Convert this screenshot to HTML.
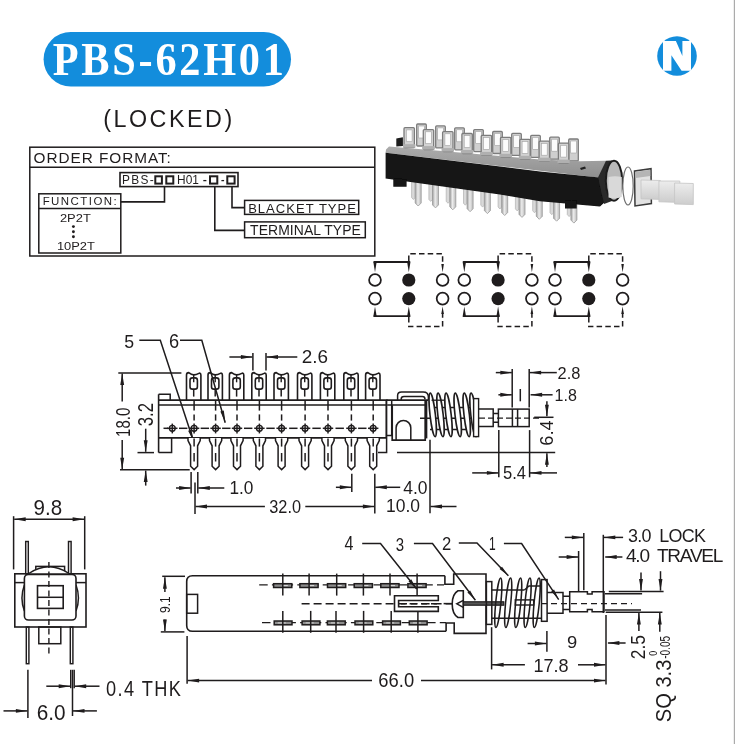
<!DOCTYPE html>
<html><head><meta charset="utf-8"><style>
html,body{margin:0;padding:0;background:#fff;}
body{width:735px;height:744px;overflow:hidden;position:relative;}
svg{position:absolute;left:0;top:0;display:block;will-change:transform;}
</style></head><body>
<svg width="735" height="744" viewBox="0 0 735 744" stroke-linecap="butt">
<rect x="43.6" y="32" width="247.4" height="54.5" rx="27.2" fill="#138ddc"/>
<text x="0" y="0" transform="translate(52.68,74.70) scale(0.92,1)" font-family="Liberation Serif" font-weight="bold" font-size="46.02" fill="#fff" letter-spacing="2.986">PBS-62H01</text>
<circle cx="677" cy="56" r="19.8" fill="#138ddc"/>
<path d="M663,41 L675.9,41 L682.4,56.1 L682.4,41 L691,41 L691,70.8 L681.6,70.8 L671.4,55.3 L671.4,70.8 L663,70.8 Z" fill="#fff"/>
<text x="103.16" y="126.70" font-family="Liberation Sans" font-size="23.30" font-weight="normal" fill="#1f1c1d" letter-spacing="2.523">(LOCKED)</text>
<rect x="733.8" y="0" width="1.2" height="744" fill="#ababab"/>
<rect x="29.80" y="147.20" width="345.00" height="108.80" rx="0" stroke="#1f1c1d" stroke-width="1.5" fill="none"/>
<line x1="29.80" y1="167.20" x2="374.80" y2="167.20" stroke="#1f1c1d" stroke-width="1.5"/>
<text x="33.58" y="162.50" font-family="Liberation Sans" font-size="15.33" font-weight="normal" fill="#1f1c1d" letter-spacing="0.963">ORDER FORMAT:</text>
<rect x="120.00" y="172.60" width="118.00" height="14.00" rx="0" stroke="#1f1c1d" stroke-width="1.6" fill="none"/>
<text x="122.12" y="183.60" font-family="Liberation Sans" font-size="11.89" font-weight="normal" fill="#1f1c1d" letter-spacing="1.315">PBS-</text>
<rect x="155.30" y="176.30" width="6.60" height="7.30" rx="0" stroke="#1f1c1d" stroke-width="2.0" fill="none"/>
<rect x="166.30" y="176.30" width="7.00" height="7.30" rx="0" stroke="#1f1c1d" stroke-width="2.0" fill="none"/>
<rect x="210.00" y="176.30" width="7.30" height="7.30" rx="0" stroke="#1f1c1d" stroke-width="2.0" fill="none"/>
<rect x="227.30" y="176.30" width="7.30" height="7.30" rx="0" stroke="#1f1c1d" stroke-width="2.0" fill="none"/>
<text x="177.12" y="183.60" font-family="Liberation Sans" font-size="11.90" font-weight="normal" fill="#1f1c1d" letter-spacing="0.017">H01</text>
<line x1="203.30" y1="180.60" x2="206.40" y2="180.60" stroke="#1f1c1d" stroke-width="1.3"/>
<line x1="221.40" y1="180.60" x2="224.10" y2="180.60" stroke="#1f1c1d" stroke-width="1.3"/>
<rect x="38.80" y="193.80" width="82.00" height="59.20" rx="0" stroke="#1f1c1d" stroke-width="1.5" fill="none"/>
<line x1="38.80" y1="208.40" x2="120.80" y2="208.40" stroke="#1f1c1d" stroke-width="1.5"/>
<text x="42.66" y="205.20" font-family="Liberation Sans" font-size="11.46" font-weight="normal" fill="#1f1c1d" letter-spacing="1.461">FUNCTION:</text>
<text x="59.95" y="222.40" font-family="Liberation Sans" font-size="11.60" font-weight="normal" fill="#1f1c1d" textLength="30.84" lengthAdjust="spacingAndGlyphs" >2P2T</text>
<circle cx="73.4" cy="226.6" r="1.45" fill="#1f1c1d"/>
<circle cx="73.4" cy="231.8" r="1.45" fill="#1f1c1d"/>
<circle cx="73.4" cy="236.8" r="1.45" fill="#1f1c1d"/>
<text x="56.92" y="250.30" font-family="Liberation Sans" font-size="11.75" font-weight="normal" fill="#1f1c1d" textLength="37.98" lengthAdjust="spacingAndGlyphs" >10P2T</text>
<path d="M164.5,186.6 V201.9 H120.8" stroke="#1f1c1d" stroke-width="1.6" fill="none" />
<path d="M214.8,186.6 V230.4 H244.6" stroke="#1f1c1d" stroke-width="1.6" fill="none" />
<path d="M232.0,186.6 V207.6 H244.6" stroke="#1f1c1d" stroke-width="1.6" fill="none" />
<rect x="244.60" y="200.40" width="114.10" height="14.00" rx="0" stroke="#1f1c1d" stroke-width="1.5" fill="none"/>
<text x="248.13" y="212.70" font-family="Liberation Sans" font-size="13.04" font-weight="normal" fill="#1f1c1d" letter-spacing="1.028">BLACKET TYPE</text>
<rect x="244.60" y="221.90" width="120.70" height="15.80" rx="0" stroke="#1f1c1d" stroke-width="1.5" fill="none"/>
<text x="250.09" y="235.20" font-family="Liberation Sans" font-size="13.95" font-weight="normal" fill="#1f1c1d" letter-spacing="0.067">TERMINAL TYPE</text>
<circle cx="375.00" cy="280.0" r="5.9" fill="none" stroke="#1f1c1d" stroke-width="1.75"/>
<circle cx="375.00" cy="298.6" r="5.9" fill="none" stroke="#1f1c1d" stroke-width="1.75"/>
<circle cx="408.80" cy="280.0" r="6.6" fill="#1f1c1d"/>
<circle cx="408.80" cy="298.6" r="6.6" fill="#1f1c1d"/>
<circle cx="442.60" cy="280.0" r="5.9" fill="none" stroke="#1f1c1d" stroke-width="1.75"/>
<circle cx="442.60" cy="298.6" r="5.9" fill="none" stroke="#1f1c1d" stroke-width="1.75"/>
<line x1="373.80" y1="262.00" x2="410.00" y2="262.00" stroke="#1f1c1d" stroke-width="1.8"/>
<path d="M373.25,261.50 L376.75,261.50 L375.00,272.20 Z" fill="#1f1c1d"/>
<path d="M407.05,261.50 L410.55,261.50 L408.80,272.20 Z" fill="#1f1c1d"/>
<path d="M408.80,261 V253.8 H442.60 V265" stroke="#1f1c1d" stroke-width="1.5" fill="none" stroke-dasharray="5.5,3.2"/>
<path d="M441.30,264.00 L443.90,264.00 L442.60,272.20 Z" fill="#1f1c1d"/>
<line x1="373.80" y1="316.20" x2="410.00" y2="316.20" stroke="#1f1c1d" stroke-width="1.8"/>
<path d="M373.25,316.70 L376.75,316.70 L375.00,306.40 Z" fill="#1f1c1d"/>
<path d="M407.05,316.70 L410.55,316.70 L408.80,306.40 Z" fill="#1f1c1d"/>
<path d="M408.80,317 V326.6 H442.60 V313" stroke="#1f1c1d" stroke-width="1.5" fill="none" stroke-dasharray="5.5,3.2"/>
<path d="M441.30,314.00 L443.90,314.00 L442.60,306.40 Z" fill="#1f1c1d"/>
<circle cx="464.30" cy="280.0" r="5.9" fill="none" stroke="#1f1c1d" stroke-width="1.75"/>
<circle cx="464.30" cy="298.6" r="5.9" fill="none" stroke="#1f1c1d" stroke-width="1.75"/>
<circle cx="498.10" cy="280.0" r="6.6" fill="#1f1c1d"/>
<circle cx="498.10" cy="298.6" r="6.6" fill="#1f1c1d"/>
<circle cx="531.90" cy="280.0" r="5.9" fill="none" stroke="#1f1c1d" stroke-width="1.75"/>
<circle cx="531.90" cy="298.6" r="5.9" fill="none" stroke="#1f1c1d" stroke-width="1.75"/>
<line x1="463.10" y1="262.00" x2="499.30" y2="262.00" stroke="#1f1c1d" stroke-width="1.8"/>
<path d="M462.55,261.50 L466.05,261.50 L464.30,272.20 Z" fill="#1f1c1d"/>
<path d="M496.35,261.50 L499.85,261.50 L498.10,272.20 Z" fill="#1f1c1d"/>
<path d="M498.10,261 V253.8 H531.90 V265" stroke="#1f1c1d" stroke-width="1.5" fill="none" stroke-dasharray="5.5,3.2"/>
<path d="M530.60,264.00 L533.20,264.00 L531.90,272.20 Z" fill="#1f1c1d"/>
<line x1="463.10" y1="316.20" x2="499.30" y2="316.20" stroke="#1f1c1d" stroke-width="1.8"/>
<path d="M462.55,316.70 L466.05,316.70 L464.30,306.40 Z" fill="#1f1c1d"/>
<path d="M496.35,316.70 L499.85,316.70 L498.10,306.40 Z" fill="#1f1c1d"/>
<path d="M498.10,317 V326.6 H531.90 V313" stroke="#1f1c1d" stroke-width="1.5" fill="none" stroke-dasharray="5.5,3.2"/>
<path d="M530.60,314.00 L533.20,314.00 L531.90,306.40 Z" fill="#1f1c1d"/>
<circle cx="555.00" cy="280.0" r="5.9" fill="none" stroke="#1f1c1d" stroke-width="1.75"/>
<circle cx="555.00" cy="298.6" r="5.9" fill="none" stroke="#1f1c1d" stroke-width="1.75"/>
<circle cx="588.80" cy="280.0" r="6.6" fill="#1f1c1d"/>
<circle cx="588.80" cy="298.6" r="6.6" fill="#1f1c1d"/>
<circle cx="622.60" cy="280.0" r="5.9" fill="none" stroke="#1f1c1d" stroke-width="1.75"/>
<circle cx="622.60" cy="298.6" r="5.9" fill="none" stroke="#1f1c1d" stroke-width="1.75"/>
<line x1="553.80" y1="262.00" x2="590.00" y2="262.00" stroke="#1f1c1d" stroke-width="1.8"/>
<path d="M553.25,261.50 L556.75,261.50 L555.00,272.20 Z" fill="#1f1c1d"/>
<path d="M587.05,261.50 L590.55,261.50 L588.80,272.20 Z" fill="#1f1c1d"/>
<path d="M588.80,261 V253.8 H622.60 V265" stroke="#1f1c1d" stroke-width="1.5" fill="none" stroke-dasharray="5.5,3.2"/>
<path d="M621.30,264.00 L623.90,264.00 L622.60,272.20 Z" fill="#1f1c1d"/>
<line x1="553.80" y1="316.20" x2="590.00" y2="316.20" stroke="#1f1c1d" stroke-width="1.8"/>
<path d="M553.25,316.70 L556.75,316.70 L555.00,306.40 Z" fill="#1f1c1d"/>
<path d="M587.05,316.70 L590.55,316.70 L588.80,306.40 Z" fill="#1f1c1d"/>
<path d="M588.80,317 V326.6 H622.60 V313" stroke="#1f1c1d" stroke-width="1.5" fill="none" stroke-dasharray="5.5,3.2"/>
<path d="M621.30,314.00 L623.90,314.00 L622.60,306.40 Z" fill="#1f1c1d"/>
<text x="124.19" y="348.10" font-family="Liberation Sans" font-size="19.19" font-weight="normal" fill="#1f1c1d" textLength="9.86" lengthAdjust="spacingAndGlyphs" >5</text>
<text x="169.07" y="348.10" font-family="Liberation Sans" font-size="19.77" font-weight="normal" fill="#1f1c1d" textLength="10.13" lengthAdjust="spacingAndGlyphs" >6</text>
<path d="M139.3,340.3 H160.3 L193.6,441.6" stroke="#1f1c1d" stroke-width="1.5" fill="none" />
<path d="M193.60,441.60 L188.14,430.76 L191.56,429.64 Z" fill="#1f1c1d"/>
<path d="M180.0,340.3 H201.8 L225.2,422.8" stroke="#1f1c1d" stroke-width="1.5" fill="none" />
<path d="M225.40,422.60 L220.36,411.56 L223.82,410.57 Z" fill="#1f1c1d"/>
<line x1="118.30" y1="373.00" x2="181.40" y2="373.00" stroke="#1f1c1d" stroke-width="1.5"/>
<line x1="122.20" y1="401.60" x2="122.20" y2="373.60" stroke="#1f1c1d" stroke-width="1.5"/>
<path d="M122.20,373.60 L120.25,385.10 L124.15,385.10Z" fill="#1f1c1d"/>
<line x1="122.20" y1="440.00" x2="122.20" y2="469.20" stroke="#1f1c1d" stroke-width="1.5"/>
<path d="M122.20,469.20 L120.25,457.70 L124.15,457.70Z" fill="#1f1c1d"/>
<line x1="120.00" y1="469.80" x2="189.70" y2="469.80" stroke="#1f1c1d" stroke-width="1.5"/>
<text x="0" y="0" transform="translate(129.70,436.94) rotate(-90)" font-family="Liberation Sans" font-size="20.49" fill="#1f1c1d" textLength="29.23" lengthAdjust="spacingAndGlyphs">18.0</text>
<line x1="145.70" y1="428.70" x2="145.70" y2="451.80" stroke="#1f1c1d" stroke-width="1.5"/>
<path d="M145.70,451.80 L143.75,440.30 L147.65,440.30Z" fill="#1f1c1d"/>
<line x1="137.50" y1="452.60" x2="154.00" y2="452.60" stroke="#1f1c1d" stroke-width="1.5"/>
<line x1="145.70" y1="485.60" x2="145.70" y2="470.60" stroke="#1f1c1d" stroke-width="1.5"/>
<path d="M145.70,470.60 L143.75,482.10 L147.65,482.10Z" fill="#1f1c1d"/>
<text x="0" y="0" transform="translate(152.90,426.24) rotate(-90)" font-family="Liberation Sans" font-size="22.49" fill="#1f1c1d" textLength="23.28" lengthAdjust="spacingAndGlyphs">3.2</text>
<line x1="158.60" y1="400.10" x2="387.60" y2="400.10" stroke="#1f1c1d" stroke-width="1.9"/>
<line x1="158.60" y1="404.90" x2="387.60" y2="404.90" stroke="#1f1c1d" stroke-width="1.5"/>
<line x1="158.60" y1="437.90" x2="387.00" y2="437.90" stroke="#1f1c1d" stroke-width="1.8"/>
<line x1="158.60" y1="394.30" x2="158.60" y2="452.60" stroke="#1f1c1d" stroke-width="1.6"/>
<path d="M158.6,394.3 H170.2 V400" stroke="#1f1c1d" stroke-width="1.5" fill="none" />
<path d="M158.6,452.6 H171.6 V437.9" stroke="#1f1c1d" stroke-width="1.5" fill="none" />
<line x1="386.40" y1="400.10" x2="386.40" y2="438.00" stroke="#1f1c1d" stroke-width="1.9"/>
<path d="M386.4,435.4 H391.7 V400.1" stroke="#1f1c1d" stroke-width="1.5" fill="none" />
<path d="M386.6,437.9 V452.6 H378.0" stroke="#1f1c1d" stroke-width="1.5" fill="none" />
<path d="M186.50,400 V375.0 Q186.50,372.6 188.70,372.6 Q191.50,374.9 193.70,374.9 Q195.90,374.9 199.50,373.1 Q200.90,373.2 200.90,375.0 V400" stroke="#1f1c1d" stroke-width="1.6" fill="none" />
<rect x="190.00" y="377.9" width="7.4" height="11.2" rx="2.4" fill="none" stroke="#1f1c1d" stroke-width="1.6"/>
<line x1="193.70" y1="374.90" x2="193.70" y2="382.30" stroke="#1f1c1d" stroke-width="1.4"/>
<line x1="193.70" y1="389.10" x2="193.70" y2="396.60" stroke="#1f1c1d" stroke-width="1.5"/>
<path d="M208.00,400 V375.0 Q208.00,372.6 210.20,372.6 Q213.00,374.9 215.20,374.9 Q217.40,374.9 221.00,373.1 Q222.40,373.2 222.40,375.0 V400" stroke="#1f1c1d" stroke-width="1.6" fill="none" />
<rect x="211.50" y="377.9" width="7.4" height="11.2" rx="2.4" fill="none" stroke="#1f1c1d" stroke-width="1.6"/>
<line x1="215.20" y1="374.90" x2="215.20" y2="382.30" stroke="#1f1c1d" stroke-width="1.4"/>
<line x1="215.20" y1="389.10" x2="215.20" y2="396.60" stroke="#1f1c1d" stroke-width="1.5"/>
<path d="M229.40,400 V375.0 Q229.40,372.6 231.60,372.6 Q234.40,374.9 236.60,374.9 Q238.80,374.9 242.40,373.1 Q243.80,373.2 243.80,375.0 V400" stroke="#1f1c1d" stroke-width="1.6" fill="none" />
<rect x="232.90" y="377.9" width="7.4" height="11.2" rx="2.4" fill="none" stroke="#1f1c1d" stroke-width="1.6"/>
<line x1="236.60" y1="374.90" x2="236.60" y2="382.30" stroke="#1f1c1d" stroke-width="1.4"/>
<line x1="236.60" y1="389.10" x2="236.60" y2="396.60" stroke="#1f1c1d" stroke-width="1.5"/>
<path d="M251.80,400 V375.0 Q251.80,372.6 254.00,372.6 Q256.80,374.9 259.00,374.9 Q261.20,374.9 264.80,373.1 Q266.20,373.2 266.20,375.0 V400" stroke="#1f1c1d" stroke-width="1.6" fill="none" />
<rect x="255.30" y="377.9" width="7.4" height="11.2" rx="2.4" fill="none" stroke="#1f1c1d" stroke-width="1.6"/>
<line x1="259.00" y1="374.90" x2="259.00" y2="382.30" stroke="#1f1c1d" stroke-width="1.4"/>
<line x1="259.00" y1="389.10" x2="259.00" y2="396.60" stroke="#1f1c1d" stroke-width="1.5"/>
<path d="M274.00,400 V375.0 Q274.00,372.6 276.20,372.6 Q279.00,374.9 281.20,374.9 Q283.40,374.9 287.00,373.1 Q288.40,373.2 288.40,375.0 V400" stroke="#1f1c1d" stroke-width="1.6" fill="none" />
<rect x="277.50" y="377.9" width="7.4" height="11.2" rx="2.4" fill="none" stroke="#1f1c1d" stroke-width="1.6"/>
<line x1="281.20" y1="374.90" x2="281.20" y2="382.30" stroke="#1f1c1d" stroke-width="1.4"/>
<line x1="281.20" y1="389.10" x2="281.20" y2="396.60" stroke="#1f1c1d" stroke-width="1.5"/>
<path d="M297.50,400 V375.0 Q297.50,372.6 299.70,372.6 Q302.50,374.9 304.70,374.9 Q306.90,374.9 310.50,373.1 Q311.90,373.2 311.90,375.0 V400" stroke="#1f1c1d" stroke-width="1.6" fill="none" />
<rect x="301.00" y="377.9" width="7.4" height="11.2" rx="2.4" fill="none" stroke="#1f1c1d" stroke-width="1.6"/>
<line x1="304.70" y1="374.90" x2="304.70" y2="382.30" stroke="#1f1c1d" stroke-width="1.4"/>
<line x1="304.70" y1="389.10" x2="304.70" y2="396.60" stroke="#1f1c1d" stroke-width="1.5"/>
<path d="M320.40,400 V375.0 Q320.40,372.6 322.60,372.6 Q325.40,374.9 327.60,374.9 Q329.80,374.9 333.40,373.1 Q334.80,373.2 334.80,375.0 V400" stroke="#1f1c1d" stroke-width="1.6" fill="none" />
<rect x="323.90" y="377.9" width="7.4" height="11.2" rx="2.4" fill="none" stroke="#1f1c1d" stroke-width="1.6"/>
<line x1="327.60" y1="374.90" x2="327.60" y2="382.30" stroke="#1f1c1d" stroke-width="1.4"/>
<line x1="327.60" y1="389.10" x2="327.60" y2="396.60" stroke="#1f1c1d" stroke-width="1.5"/>
<path d="M343.80,400 V375.0 Q343.80,372.6 346.00,372.6 Q348.80,374.9 351.00,374.9 Q353.20,374.9 356.80,373.1 Q358.20,373.2 358.20,375.0 V400" stroke="#1f1c1d" stroke-width="1.6" fill="none" />
<rect x="347.30" y="377.9" width="7.4" height="11.2" rx="2.4" fill="none" stroke="#1f1c1d" stroke-width="1.6"/>
<line x1="351.00" y1="374.90" x2="351.00" y2="382.30" stroke="#1f1c1d" stroke-width="1.4"/>
<line x1="351.00" y1="389.10" x2="351.00" y2="396.60" stroke="#1f1c1d" stroke-width="1.5"/>
<path d="M365.60,400 V375.0 Q365.60,372.6 367.80,372.6 Q370.60,374.9 372.80,374.9 Q375.00,374.9 378.60,373.1 Q380.00,373.2 380.00,375.0 V400" stroke="#1f1c1d" stroke-width="1.6" fill="none" />
<rect x="369.10" y="377.9" width="7.4" height="11.2" rx="2.4" fill="none" stroke="#1f1c1d" stroke-width="1.6"/>
<line x1="372.80" y1="374.90" x2="372.80" y2="382.30" stroke="#1f1c1d" stroke-width="1.4"/>
<line x1="372.80" y1="389.10" x2="372.80" y2="396.60" stroke="#1f1c1d" stroke-width="1.5"/>
<line x1="194.10" y1="401.00" x2="194.10" y2="410.60" stroke="#1f1c1d" stroke-width="1.5"/>
<line x1="194.10" y1="414.40" x2="194.10" y2="420.60" stroke="#1f1c1d" stroke-width="1.5"/>
<line x1="215.60" y1="401.00" x2="215.60" y2="410.60" stroke="#1f1c1d" stroke-width="1.5"/>
<line x1="215.60" y1="414.40" x2="215.60" y2="420.60" stroke="#1f1c1d" stroke-width="1.5"/>
<line x1="237.00" y1="401.00" x2="237.00" y2="410.60" stroke="#1f1c1d" stroke-width="1.5"/>
<line x1="237.00" y1="414.40" x2="237.00" y2="420.60" stroke="#1f1c1d" stroke-width="1.5"/>
<line x1="259.40" y1="401.00" x2="259.40" y2="410.60" stroke="#1f1c1d" stroke-width="1.5"/>
<line x1="259.40" y1="414.40" x2="259.40" y2="420.60" stroke="#1f1c1d" stroke-width="1.5"/>
<line x1="281.60" y1="401.00" x2="281.60" y2="410.60" stroke="#1f1c1d" stroke-width="1.5"/>
<line x1="281.60" y1="414.40" x2="281.60" y2="420.60" stroke="#1f1c1d" stroke-width="1.5"/>
<line x1="305.10" y1="401.00" x2="305.10" y2="410.60" stroke="#1f1c1d" stroke-width="1.5"/>
<line x1="305.10" y1="414.40" x2="305.10" y2="420.60" stroke="#1f1c1d" stroke-width="1.5"/>
<line x1="328.00" y1="401.00" x2="328.00" y2="410.60" stroke="#1f1c1d" stroke-width="1.5"/>
<line x1="328.00" y1="414.40" x2="328.00" y2="420.60" stroke="#1f1c1d" stroke-width="1.5"/>
<line x1="351.40" y1="401.00" x2="351.40" y2="410.60" stroke="#1f1c1d" stroke-width="1.5"/>
<line x1="351.40" y1="414.40" x2="351.40" y2="420.60" stroke="#1f1c1d" stroke-width="1.5"/>
<line x1="373.20" y1="401.00" x2="373.20" y2="410.60" stroke="#1f1c1d" stroke-width="1.5"/>
<line x1="373.20" y1="414.40" x2="373.20" y2="420.60" stroke="#1f1c1d" stroke-width="1.5"/>
<line x1="163.50" y1="428.30" x2="168.00" y2="428.30" stroke="#1f1c1d" stroke-width="1.5"/>
<line x1="179.00" y1="428.30" x2="187.40" y2="428.30" stroke="#1f1c1d" stroke-width="1.5"/>
<line x1="200.65" y1="428.30" x2="209.05" y2="428.30" stroke="#1f1c1d" stroke-width="1.5"/>
<line x1="222.10" y1="428.30" x2="230.50" y2="428.30" stroke="#1f1c1d" stroke-width="1.5"/>
<line x1="244.00" y1="428.30" x2="252.40" y2="428.30" stroke="#1f1c1d" stroke-width="1.5"/>
<line x1="266.30" y1="428.30" x2="274.70" y2="428.30" stroke="#1f1c1d" stroke-width="1.5"/>
<line x1="289.15" y1="428.30" x2="297.55" y2="428.30" stroke="#1f1c1d" stroke-width="1.5"/>
<line x1="312.35" y1="428.30" x2="320.75" y2="428.30" stroke="#1f1c1d" stroke-width="1.5"/>
<line x1="335.50" y1="428.30" x2="343.90" y2="428.30" stroke="#1f1c1d" stroke-width="1.5"/>
<line x1="358.10" y1="428.30" x2="366.50" y2="428.30" stroke="#1f1c1d" stroke-width="1.5"/>
<circle cx="172.30" cy="428.3" r="2.9" fill="#fff" stroke="#1f1c1d" stroke-width="1.4"/>
<line x1="167.10" y1="428.30" x2="177.50" y2="428.30" stroke="#1f1c1d" stroke-width="1.5"/>
<line x1="172.30" y1="423.60" x2="172.30" y2="433.40" stroke="#1f1c1d" stroke-width="1.5"/>
<circle cx="194.10" cy="428.3" r="2.9" fill="#fff" stroke="#1f1c1d" stroke-width="1.4"/>
<line x1="188.90" y1="428.30" x2="199.30" y2="428.30" stroke="#1f1c1d" stroke-width="1.5"/>
<line x1="194.10" y1="423.60" x2="194.10" y2="433.40" stroke="#1f1c1d" stroke-width="1.5"/>
<circle cx="215.60" cy="428.3" r="2.9" fill="#fff" stroke="#1f1c1d" stroke-width="1.4"/>
<line x1="210.40" y1="428.30" x2="220.80" y2="428.30" stroke="#1f1c1d" stroke-width="1.5"/>
<line x1="215.60" y1="423.60" x2="215.60" y2="433.40" stroke="#1f1c1d" stroke-width="1.5"/>
<circle cx="237.00" cy="428.3" r="2.9" fill="#fff" stroke="#1f1c1d" stroke-width="1.4"/>
<line x1="231.80" y1="428.30" x2="242.20" y2="428.30" stroke="#1f1c1d" stroke-width="1.5"/>
<line x1="237.00" y1="423.60" x2="237.00" y2="433.40" stroke="#1f1c1d" stroke-width="1.5"/>
<circle cx="259.40" cy="428.3" r="2.9" fill="#fff" stroke="#1f1c1d" stroke-width="1.4"/>
<line x1="254.20" y1="428.30" x2="264.60" y2="428.30" stroke="#1f1c1d" stroke-width="1.5"/>
<line x1="259.40" y1="423.60" x2="259.40" y2="433.40" stroke="#1f1c1d" stroke-width="1.5"/>
<circle cx="281.60" cy="428.3" r="2.9" fill="#fff" stroke="#1f1c1d" stroke-width="1.4"/>
<line x1="276.40" y1="428.30" x2="286.80" y2="428.30" stroke="#1f1c1d" stroke-width="1.5"/>
<line x1="281.60" y1="423.60" x2="281.60" y2="433.40" stroke="#1f1c1d" stroke-width="1.5"/>
<circle cx="305.10" cy="428.3" r="2.9" fill="#fff" stroke="#1f1c1d" stroke-width="1.4"/>
<line x1="299.90" y1="428.30" x2="310.30" y2="428.30" stroke="#1f1c1d" stroke-width="1.5"/>
<line x1="305.10" y1="423.60" x2="305.10" y2="433.40" stroke="#1f1c1d" stroke-width="1.5"/>
<circle cx="328.00" cy="428.3" r="2.9" fill="#fff" stroke="#1f1c1d" stroke-width="1.4"/>
<line x1="322.80" y1="428.30" x2="333.20" y2="428.30" stroke="#1f1c1d" stroke-width="1.5"/>
<line x1="328.00" y1="423.60" x2="328.00" y2="433.40" stroke="#1f1c1d" stroke-width="1.5"/>
<circle cx="351.40" cy="428.3" r="2.9" fill="#fff" stroke="#1f1c1d" stroke-width="1.4"/>
<line x1="346.20" y1="428.30" x2="356.60" y2="428.30" stroke="#1f1c1d" stroke-width="1.5"/>
<line x1="351.40" y1="423.60" x2="351.40" y2="433.40" stroke="#1f1c1d" stroke-width="1.5"/>
<circle cx="373.20" cy="428.3" r="2.9" fill="#fff" stroke="#1f1c1d" stroke-width="1.4"/>
<line x1="368.00" y1="428.30" x2="378.40" y2="428.30" stroke="#1f1c1d" stroke-width="1.5"/>
<line x1="373.20" y1="423.60" x2="373.20" y2="433.40" stroke="#1f1c1d" stroke-width="1.5"/>
<path d="M188.00,438 V440.6 L190.60,445.8 V466.3 L194.10,469.6 L197.60,466.3 V445.8 L200.20,440.6 V438" stroke="#1f1c1d" stroke-width="1.5" fill="#fff" />
<line x1="194.10" y1="438.50" x2="194.10" y2="446.60" stroke="#1f1c1d" stroke-width="1.5"/>
<line x1="194.10" y1="453.00" x2="194.10" y2="461.50" stroke="#1f1c1d" stroke-width="1.5"/>
<path d="M209.50,438 V440.6 L212.10,445.8 V466.3 L215.60,469.6 L219.10,466.3 V445.8 L221.70,440.6 V438" stroke="#1f1c1d" stroke-width="1.5" fill="#fff" />
<line x1="215.60" y1="438.50" x2="215.60" y2="446.60" stroke="#1f1c1d" stroke-width="1.5"/>
<line x1="215.60" y1="453.00" x2="215.60" y2="461.50" stroke="#1f1c1d" stroke-width="1.5"/>
<path d="M230.90,438 V440.6 L233.50,445.8 V466.3 L237.00,469.6 L240.50,466.3 V445.8 L243.10,440.6 V438" stroke="#1f1c1d" stroke-width="1.5" fill="#fff" />
<line x1="237.00" y1="438.50" x2="237.00" y2="446.60" stroke="#1f1c1d" stroke-width="1.5"/>
<line x1="237.00" y1="453.00" x2="237.00" y2="461.50" stroke="#1f1c1d" stroke-width="1.5"/>
<path d="M253.30,438 V440.6 L255.90,445.8 V466.3 L259.40,469.6 L262.90,466.3 V445.8 L265.50,440.6 V438" stroke="#1f1c1d" stroke-width="1.5" fill="#fff" />
<line x1="259.40" y1="438.50" x2="259.40" y2="446.60" stroke="#1f1c1d" stroke-width="1.5"/>
<line x1="259.40" y1="453.00" x2="259.40" y2="461.50" stroke="#1f1c1d" stroke-width="1.5"/>
<path d="M275.50,438 V440.6 L278.10,445.8 V466.3 L281.60,469.6 L285.10,466.3 V445.8 L287.70,440.6 V438" stroke="#1f1c1d" stroke-width="1.5" fill="#fff" />
<line x1="281.60" y1="438.50" x2="281.60" y2="446.60" stroke="#1f1c1d" stroke-width="1.5"/>
<line x1="281.60" y1="453.00" x2="281.60" y2="461.50" stroke="#1f1c1d" stroke-width="1.5"/>
<path d="M299.00,438 V440.6 L301.60,445.8 V466.3 L305.10,469.6 L308.60,466.3 V445.8 L311.20,440.6 V438" stroke="#1f1c1d" stroke-width="1.5" fill="#fff" />
<line x1="305.10" y1="438.50" x2="305.10" y2="446.60" stroke="#1f1c1d" stroke-width="1.5"/>
<line x1="305.10" y1="453.00" x2="305.10" y2="461.50" stroke="#1f1c1d" stroke-width="1.5"/>
<path d="M321.90,438 V440.6 L324.50,445.8 V466.3 L328.00,469.6 L331.50,466.3 V445.8 L334.10,440.6 V438" stroke="#1f1c1d" stroke-width="1.5" fill="#fff" />
<line x1="328.00" y1="438.50" x2="328.00" y2="446.60" stroke="#1f1c1d" stroke-width="1.5"/>
<line x1="328.00" y1="453.00" x2="328.00" y2="461.50" stroke="#1f1c1d" stroke-width="1.5"/>
<path d="M345.30,438 V440.6 L347.90,445.8 V466.3 L351.40,469.6 L354.90,466.3 V445.8 L357.50,440.6 V438" stroke="#1f1c1d" stroke-width="1.5" fill="#fff" />
<line x1="351.40" y1="438.50" x2="351.40" y2="446.60" stroke="#1f1c1d" stroke-width="1.5"/>
<line x1="351.40" y1="453.00" x2="351.40" y2="461.50" stroke="#1f1c1d" stroke-width="1.5"/>
<path d="M367.10,438 V440.6 L369.70,445.8 V466.3 L373.20,469.6 L376.70,466.3 V445.8 L379.30,440.6 V438" stroke="#1f1c1d" stroke-width="1.5" fill="#fff" />
<line x1="373.20" y1="438.50" x2="373.20" y2="446.60" stroke="#1f1c1d" stroke-width="1.5"/>
<line x1="373.20" y1="453.00" x2="373.20" y2="461.50" stroke="#1f1c1d" stroke-width="1.5"/>
<path d="M392.2,405.2 V440.2 H425.2 V400.1" stroke="#1f1c1d" stroke-width="1.7" fill="none" />
<line x1="387.60" y1="405.00" x2="425.20" y2="405.00" stroke="#1f1c1d" stroke-width="1.5"/>
<line x1="386.40" y1="400.10" x2="428.40" y2="400.10" stroke="#1f1c1d" stroke-width="1.9"/>
<path d="M396.1,440 V427.8 A7.35,7.35 0 0 1 410.8,427.8 V440" stroke="#1f1c1d" stroke-width="1.5" fill="none" />
<path d="M397.6,400 V395.5 Q397.6,391.9 401.5,391.9 H423.2 Q428.4,391.9 428.4,397 V400" stroke="#1f1c1d" stroke-width="1.5" fill="none" />
<path d="M401.2,400 V399 Q401.2,396.6 404,396.6 H422.4 Q425,396.6 425,399.2" stroke="#1f1c1d" stroke-width="1.5" fill="none" />
<line x1="426.60" y1="400.10" x2="426.60" y2="438.40" stroke="#1f1c1d" stroke-width="1.5"/>
<path d="M430,407.4 H471" stroke="#1f1c1d" stroke-width="1.5" fill="none" />
<line x1="420.00" y1="418.30" x2="473.00" y2="418.30" stroke="#1f1c1d" stroke-width="1.4"/>
<path d="M430,429.4 H471" stroke="#1f1c1d" stroke-width="1.5" fill="none" />
<ellipse cx="432.70" cy="414.9" rx="2.7" ry="21.9" transform="rotate(-6.5 432.70 414.9)" fill="#fff" stroke="#1f1c1d" stroke-width="1.6"/>
<ellipse cx="440.50" cy="414.9" rx="2.7" ry="21.9" transform="rotate(-6.5 440.50 414.9)" fill="#fff" stroke="#1f1c1d" stroke-width="1.6"/>
<ellipse cx="448.50" cy="414.9" rx="2.7" ry="21.9" transform="rotate(-6.5 448.50 414.9)" fill="#fff" stroke="#1f1c1d" stroke-width="1.6"/>
<ellipse cx="457.70" cy="414.9" rx="2.7" ry="21.9" transform="rotate(-6.5 457.70 414.9)" fill="#fff" stroke="#1f1c1d" stroke-width="1.6"/>
<ellipse cx="466.70" cy="414.9" rx="2.7" ry="21.9" transform="rotate(-6.5 466.70 414.9)" fill="#fff" stroke="#1f1c1d" stroke-width="1.6"/>
<ellipse cx="473.50" cy="414.9" rx="2.7" ry="21.9" transform="rotate(-6.5 473.50 414.9)" fill="#fff" stroke="#1f1c1d" stroke-width="1.6"/>
<line x1="431.50" y1="400.20" x2="444.00" y2="400.20" stroke="#1f1c1d" stroke-width="1.3"/>
<rect x="473.60" y="398.60" width="5.00" height="38.00" rx="0" stroke="#1f1c1d" stroke-width="1.4" fill="#fff"/>
<path d="M478.6,409.1 H493.2 V426.6 H478.6" stroke="#1f1c1d" stroke-width="1.5" fill="none" />
<path d="M493.2,413.6 H498.1 M493.2,422.2 H498.1" stroke="#1f1c1d" stroke-width="1.5" fill="none" />
<rect x="498.40" y="409.10" width="30.80" height="17.50" rx="0" stroke="#1f1c1d" stroke-width="1.5" fill="none"/>
<line x1="512.40" y1="409.10" x2="512.40" y2="426.60" stroke="#1f1c1d" stroke-width="1.5"/>
<line x1="517.60" y1="409.10" x2="517.60" y2="426.60" stroke="#1f1c1d" stroke-width="1.5"/>
<path d="M479,418.2 H541" stroke="#1f1c1d" stroke-width="1.3" fill="none" stroke-dasharray="6,3"/>
<line x1="512.20" y1="369.00" x2="512.20" y2="407.40" stroke="#1f1c1d" stroke-width="1.5"/>
<line x1="529.20" y1="369.00" x2="529.20" y2="407.40" stroke="#1f1c1d" stroke-width="1.5"/>
<line x1="495.80" y1="372.60" x2="511.80" y2="372.60" stroke="#1f1c1d" stroke-width="1.5"/>
<path d="M511.80,372.60 L500.30,370.65 L500.30,374.55Z" fill="#1f1c1d"/>
<line x1="556.80" y1="372.60" x2="529.60" y2="372.60" stroke="#1f1c1d" stroke-width="1.5"/>
<path d="M529.60,372.60 L541.10,370.65 L541.10,374.55Z" fill="#1f1c1d"/>
<text x="557.58" y="378.60" font-family="Liberation Sans" font-size="17.19" font-weight="normal" fill="#1f1c1d" textLength="22.83" lengthAdjust="spacingAndGlyphs" >2.8</text>
<line x1="498.40" y1="394.80" x2="511.80" y2="394.80" stroke="#1f1c1d" stroke-width="1.5"/>
<path d="M511.80,394.80 L500.30,392.85 L500.30,396.75Z" fill="#1f1c1d"/>
<line x1="520.30" y1="389.00" x2="520.30" y2="401.30" stroke="#1f1c1d" stroke-width="1.5"/>
<line x1="552.60" y1="394.80" x2="530.60" y2="394.80" stroke="#1f1c1d" stroke-width="1.5"/>
<path d="M530.60,394.80 L542.10,392.85 L542.10,396.75Z" fill="#1f1c1d"/>
<text x="554.58" y="400.80" font-family="Liberation Sans" font-size="17.05" font-weight="normal" fill="#1f1c1d" textLength="22.31" lengthAdjust="spacingAndGlyphs" >1.8</text>
<line x1="546.90" y1="401.30" x2="546.90" y2="416.20" stroke="#1f1c1d" stroke-width="1.5"/>
<path d="M546.90,416.20 L544.95,404.70 L548.85,404.70Z" fill="#1f1c1d"/>
<line x1="534.20" y1="417.30" x2="553.50" y2="417.30" stroke="#1f1c1d" stroke-width="1.5"/>
<line x1="397.00" y1="452.60" x2="555.20" y2="452.60" stroke="#1f1c1d" stroke-width="1.5"/>
<line x1="546.90" y1="467.00" x2="546.90" y2="453.20" stroke="#1f1c1d" stroke-width="1.5"/>
<path d="M546.90,453.20 L544.95,464.70 L548.85,464.70Z" fill="#1f1c1d"/>
<text x="0" y="0" transform="translate(553.20,445.63) rotate(-90)" font-family="Liberation Sans" font-size="17.77" fill="#1f1c1d" textLength="25.36" lengthAdjust="spacingAndGlyphs">6.4</text>
<line x1="498.80" y1="430.10" x2="498.80" y2="477.30" stroke="#1f1c1d" stroke-width="1.5"/>
<line x1="529.60" y1="430.10" x2="529.60" y2="477.30" stroke="#1f1c1d" stroke-width="1.5"/>
<line x1="472.20" y1="472.90" x2="498.40" y2="472.90" stroke="#1f1c1d" stroke-width="1.5"/>
<path d="M498.40,472.90 L486.90,470.95 L486.90,474.85Z" fill="#1f1c1d"/>
<line x1="557.00" y1="472.90" x2="530.00" y2="472.90" stroke="#1f1c1d" stroke-width="1.5"/>
<path d="M530.00,472.90 L541.50,470.95 L541.50,474.85Z" fill="#1f1c1d"/>
<text x="503.04" y="478.90" font-family="Liberation Sans" font-size="18.02" font-weight="normal" fill="#1f1c1d" textLength="23.05" lengthAdjust="spacingAndGlyphs" >5.4</text>
<line x1="191.10" y1="472.00" x2="191.10" y2="493.50" stroke="#1f1c1d" stroke-width="1.5"/>
<line x1="197.80" y1="472.00" x2="197.80" y2="493.50" stroke="#1f1c1d" stroke-width="1.5"/>
<line x1="195.00" y1="482.60" x2="195.00" y2="514.00" stroke="#1f1c1d" stroke-width="1.5"/>
<line x1="176.00" y1="488.00" x2="190.60" y2="488.00" stroke="#1f1c1d" stroke-width="1.5"/>
<path d="M190.60,488.00 L179.10,486.05 L179.10,489.95Z" fill="#1f1c1d"/>
<line x1="224.30" y1="488.00" x2="198.30" y2="488.00" stroke="#1f1c1d" stroke-width="1.5"/>
<path d="M198.30,488.00 L209.80,486.05 L209.80,489.95Z" fill="#1f1c1d"/>
<text x="229.49" y="493.70" font-family="Liberation Sans" font-size="18.19" font-weight="normal" fill="#1f1c1d" textLength="23.99" lengthAdjust="spacingAndGlyphs" >1.0</text>
<line x1="264.90" y1="506.50" x2="195.50" y2="506.50" stroke="#1f1c1d" stroke-width="1.5"/>
<path d="M195.50,506.50 L207.00,504.55 L207.00,508.45Z" fill="#1f1c1d"/>
<text x="269.28" y="512.60" font-family="Liberation Sans" font-size="17.91" font-weight="normal" fill="#1f1c1d" textLength="31.76" lengthAdjust="spacingAndGlyphs" >32.0</text>
<line x1="305.30" y1="506.50" x2="374.40" y2="506.50" stroke="#1f1c1d" stroke-width="1.5"/>
<path d="M374.40,506.50 L362.90,504.55 L362.90,508.45Z" fill="#1f1c1d"/>
<line x1="351.80" y1="473.70" x2="351.80" y2="492.00" stroke="#1f1c1d" stroke-width="1.5"/>
<line x1="374.80" y1="473.70" x2="374.80" y2="513.50" stroke="#1f1c1d" stroke-width="1.5"/>
<line x1="335.90" y1="487.30" x2="351.30" y2="487.30" stroke="#1f1c1d" stroke-width="1.5"/>
<path d="M351.30,487.30 L339.80,485.35 L339.80,489.25Z" fill="#1f1c1d"/>
<line x1="400.20" y1="487.30" x2="375.30" y2="487.30" stroke="#1f1c1d" stroke-width="1.5"/>
<path d="M375.30,487.30 L386.80,485.35 L386.80,489.25Z" fill="#1f1c1d"/>
<text x="403.30" y="493.60" font-family="Liberation Sans" font-size="17.91" font-weight="normal" fill="#1f1c1d" textLength="24.29" lengthAdjust="spacingAndGlyphs" >4.0</text>
<text x="386.07" y="512.40" font-family="Liberation Sans" font-size="18.05" font-weight="normal" fill="#1f1c1d" textLength="34.02" lengthAdjust="spacingAndGlyphs" >10.0</text>
<line x1="430.00" y1="439.80" x2="430.00" y2="513.30" stroke="#1f1c1d" stroke-width="1.5"/>
<line x1="456.50" y1="506.50" x2="430.50" y2="506.50" stroke="#1f1c1d" stroke-width="1.5"/>
<path d="M430.50,506.50 L442.00,504.55 L442.00,508.45Z" fill="#1f1c1d"/>
<text x="33.53" y="515.10" font-family="Liberation Sans" font-size="21.78" font-weight="normal" fill="#1f1c1d" textLength="28.55" lengthAdjust="spacingAndGlyphs" >9.8</text>
<line x1="13.60" y1="516.20" x2="13.60" y2="569.40" stroke="#1f1c1d" stroke-width="1.5"/>
<line x1="84.70" y1="516.20" x2="84.70" y2="569.40" stroke="#1f1c1d" stroke-width="1.5"/>
<line x1="14.20" y1="519.30" x2="84.10" y2="519.30" stroke="#1f1c1d" stroke-width="1.45"/>
<path d="M14.20,519.30 L25.70,517.35 L25.70,521.25Z" fill="#1f1c1d"/>
<path d="M84.10,519.30 L72.60,517.35 L72.60,521.25Z" fill="#1f1c1d"/>
<rect x="25.70" y="541.50" width="2.60" height="32.30" rx="0" stroke="#1f1c1d" stroke-width="1.45" fill="none"/>
<rect x="68.50" y="541.50" width="2.60" height="32.30" rx="0" stroke="#1f1c1d" stroke-width="1.45" fill="none"/>
<rect x="14.80" y="573.80" width="71.20" height="53.20" rx="0" stroke="#1f1c1d" stroke-width="1.6" fill="none"/>
<line x1="14.80" y1="582.60" x2="24.40" y2="582.60" stroke="#1f1c1d" stroke-width="1.5"/>
<line x1="76.00" y1="582.60" x2="86.00" y2="582.60" stroke="#1f1c1d" stroke-width="1.5"/>
<rect x="35.80" y="566.40" width="28.80" height="7.40" rx="0" stroke="#1f1c1d" stroke-width="1.5" fill="none"/>
<path d="M28.8,573.5 Q48.9,560 69,573.5" stroke="#1f1c1d" stroke-width="1.4" fill="#fff" />
<path d="M24.4,585 Q19.5,598 24.4,611" stroke="#1f1c1d" stroke-width="1.5" fill="none" />
<path d="M76,585 Q80.9,598 76,611" stroke="#1f1c1d" stroke-width="1.5" fill="none" />
<rect x="24.4" y="574.4" width="51.6" height="45.6" rx="4" fill="#fff" stroke="#1f1c1d" stroke-width="1.6"/>
<rect x="37.50" y="585.70" width="25.70" height="22.70" rx="0" stroke="#1f1c1d" stroke-width="1.6" fill="none"/>
<line x1="37.50" y1="597.30" x2="63.20" y2="597.30" stroke="#1f1c1d" stroke-width="1.5"/>
<path d="M48.9,562 V656" stroke="#1f1c1d" stroke-width="1.4" fill="none" stroke-dasharray="6,3.5"/>
<rect x="26.30" y="627.00" width="2.60" height="36.70" rx="0" stroke="#1f1c1d" stroke-width="1.45" fill="none"/>
<rect x="70.30" y="627.00" width="2.60" height="36.70" rx="0" stroke="#1f1c1d" stroke-width="1.45" fill="none"/>
<rect x="38.80" y="627.00" width="22.00" height="16.70" rx="0" stroke="#1f1c1d" stroke-width="1.5" fill="none"/>
<line x1="27.90" y1="669.80" x2="27.90" y2="717.90" stroke="#1f1c1d" stroke-width="1.5"/>
<line x1="72.50" y1="669.80" x2="72.50" y2="716.00" stroke="#1f1c1d" stroke-width="1.5"/>
<line x1="70.70" y1="669.80" x2="70.70" y2="688.20" stroke="#1f1c1d" stroke-width="1.45"/>
<line x1="74.20" y1="669.80" x2="74.20" y2="688.20" stroke="#1f1c1d" stroke-width="1.45"/>
<line x1="3.50" y1="710.90" x2="27.40" y2="710.90" stroke="#1f1c1d" stroke-width="1.5"/>
<path d="M27.40,710.90 L15.90,708.95 L15.90,712.85Z" fill="#1f1c1d"/>
<line x1="96.90" y1="710.90" x2="73.00" y2="710.90" stroke="#1f1c1d" stroke-width="1.5"/>
<path d="M73.00,710.90 L84.50,708.95 L84.50,712.85Z" fill="#1f1c1d"/>
<text x="36.64" y="720.40" font-family="Liberation Sans" font-size="22.21" font-weight="normal" fill="#1f1c1d" textLength="28.87" lengthAdjust="spacingAndGlyphs" >6.0</text>
<line x1="46.30" y1="686.20" x2="70.20" y2="686.20" stroke="#1f1c1d" stroke-width="1.5"/>
<path d="M70.20,686.20 L58.70,684.25 L58.70,688.15Z" fill="#1f1c1d"/>
<line x1="99.50" y1="686.20" x2="74.70" y2="686.20" stroke="#1f1c1d" stroke-width="1.5"/>
<path d="M74.70,686.20 L86.20,684.25 L86.20,688.15Z" fill="#1f1c1d"/>
<text x="0" y="0" transform="translate(105.99,695.70) scale(0.8,1)" font-family="Liberation Sans" font-weight="normal" font-size="22.78" fill="#1f1c1d" letter-spacing="1.774">0.4 THK</text>
<line x1="162.20" y1="576.30" x2="185.00" y2="576.30" stroke="#1f1c1d" stroke-width="1.5"/>
<line x1="160.80" y1="631.90" x2="184.40" y2="631.90" stroke="#1f1c1d" stroke-width="1.5"/>
<line x1="164.90" y1="592.10" x2="164.90" y2="577.20" stroke="#1f1c1d" stroke-width="1.5"/>
<path d="M164.90,577.20 L162.95,588.70 L166.85,588.70Z" fill="#1f1c1d"/>
<line x1="164.90" y1="619.40" x2="164.90" y2="631.00" stroke="#1f1c1d" stroke-width="1.5"/>
<path d="M164.90,631.00 L162.95,619.50 L166.85,619.50Z" fill="#1f1c1d"/>
<text x="0" y="0" transform="translate(170.20,612.97) rotate(-90)" font-family="Liberation Sans" font-size="14.76" fill="#1f1c1d" textLength="16.76" lengthAdjust="spacingAndGlyphs">9.1</text>
<path d="M444.9,575.8 H192.5 Q186.7,575.8 186.7,581.6 V625.4 Q186.7,631.2 192.5,631.2 H446.1" stroke="#1f1c1d" stroke-width="1.6" fill="none" />
<path d="M444.9,575.8 V584.3 H453.7 V574.0 H486.0 V633.4 H454.2 V623.0 H446.1 V631.2" stroke="#1f1c1d" stroke-width="1.6" fill="none" />
<rect x="186.70" y="594.40" width="10.90" height="18.80" rx="0" stroke="#1f1c1d" stroke-width="1.5" fill="none"/>
<path d="M259.2,584.9 H444" stroke="#1f1c1d" stroke-width="1.4" fill="none" stroke-dasharray="8.5,4.2"/>
<path d="M262,622.6 H446" stroke="#1f1c1d" stroke-width="1.4" fill="none" stroke-dasharray="8.5,4.2"/>
<path d="M301.6,603.8 H452" stroke="#1f1c1d" stroke-width="1.4" fill="none" stroke-dasharray="8,4"/>
<rect x="273.60" y="583.7" width="18.2" height="3.8" fill="#8c8c8c" stroke="#1f1c1d" stroke-width="1.5"/>
<line x1="282.80" y1="585.60" x2="287.80" y2="585.60" stroke="#e8e8e8" stroke-width="0.9"/>
<line x1="282.80" y1="573.60" x2="282.80" y2="595.60" stroke="#1f1c1d" stroke-width="1.5"/>
<rect x="299.90" y="583.7" width="18.2" height="3.8" fill="#8c8c8c" stroke="#1f1c1d" stroke-width="1.5"/>
<line x1="309.10" y1="585.60" x2="314.10" y2="585.60" stroke="#e8e8e8" stroke-width="0.9"/>
<line x1="309.10" y1="573.60" x2="309.10" y2="595.60" stroke="#1f1c1d" stroke-width="1.5"/>
<rect x="327.50" y="583.7" width="18.2" height="3.8" fill="#8c8c8c" stroke="#1f1c1d" stroke-width="1.5"/>
<line x1="336.70" y1="585.60" x2="341.70" y2="585.60" stroke="#e8e8e8" stroke-width="0.9"/>
<line x1="336.70" y1="573.60" x2="336.70" y2="595.60" stroke="#1f1c1d" stroke-width="1.5"/>
<rect x="354.20" y="583.7" width="18.2" height="3.8" fill="#8c8c8c" stroke="#1f1c1d" stroke-width="1.5"/>
<line x1="363.40" y1="585.60" x2="368.40" y2="585.60" stroke="#e8e8e8" stroke-width="0.9"/>
<line x1="363.40" y1="573.60" x2="363.40" y2="595.60" stroke="#1f1c1d" stroke-width="1.5"/>
<rect x="380.80" y="583.7" width="18.2" height="3.8" fill="#8c8c8c" stroke="#1f1c1d" stroke-width="1.5"/>
<line x1="390.00" y1="585.60" x2="395.00" y2="585.60" stroke="#e8e8e8" stroke-width="0.9"/>
<line x1="390.00" y1="573.60" x2="390.00" y2="595.60" stroke="#1f1c1d" stroke-width="1.5"/>
<rect x="407.90" y="583.7" width="18.2" height="3.8" fill="#8c8c8c" stroke="#1f1c1d" stroke-width="1.5"/>
<line x1="417.10" y1="585.60" x2="422.10" y2="585.60" stroke="#e8e8e8" stroke-width="0.9"/>
<line x1="417.10" y1="573.60" x2="417.10" y2="595.60" stroke="#1f1c1d" stroke-width="1.5"/>
<rect x="274.20" y="621.0" width="17.8" height="3.8" fill="#8c8c8c" stroke="#1f1c1d" stroke-width="1.5"/>
<line x1="277.80" y1="622.90" x2="285.80" y2="622.90" stroke="#d8d8d8" stroke-width="0.9"/>
<line x1="282.80" y1="610.90" x2="282.80" y2="632.80" stroke="#1f1c1d" stroke-width="1.5"/>
<rect x="302.10" y="621.0" width="17.8" height="3.8" fill="#8c8c8c" stroke="#1f1c1d" stroke-width="1.5"/>
<line x1="305.70" y1="622.90" x2="313.70" y2="622.90" stroke="#d8d8d8" stroke-width="0.9"/>
<line x1="310.70" y1="610.90" x2="310.70" y2="632.80" stroke="#1f1c1d" stroke-width="1.5"/>
<rect x="327.40" y="621.0" width="17.8" height="3.8" fill="#8c8c8c" stroke="#1f1c1d" stroke-width="1.5"/>
<line x1="331.00" y1="622.90" x2="339.00" y2="622.90" stroke="#d8d8d8" stroke-width="0.9"/>
<line x1="336.00" y1="610.90" x2="336.00" y2="632.80" stroke="#1f1c1d" stroke-width="1.5"/>
<rect x="355.00" y="621.0" width="17.8" height="3.8" fill="#8c8c8c" stroke="#1f1c1d" stroke-width="1.5"/>
<line x1="358.60" y1="622.90" x2="366.60" y2="622.90" stroke="#d8d8d8" stroke-width="0.9"/>
<line x1="363.60" y1="610.90" x2="363.60" y2="632.80" stroke="#1f1c1d" stroke-width="1.5"/>
<rect x="382.60" y="621.0" width="17.8" height="3.8" fill="#8c8c8c" stroke="#1f1c1d" stroke-width="1.5"/>
<line x1="386.20" y1="622.90" x2="394.20" y2="622.90" stroke="#d8d8d8" stroke-width="0.9"/>
<line x1="391.20" y1="610.90" x2="391.20" y2="632.80" stroke="#1f1c1d" stroke-width="1.5"/>
<rect x="409.30" y="621.0" width="17.8" height="3.8" fill="#8c8c8c" stroke="#1f1c1d" stroke-width="1.5"/>
<line x1="412.90" y1="622.90" x2="420.90" y2="622.90" stroke="#d8d8d8" stroke-width="0.9"/>
<line x1="417.90" y1="610.90" x2="417.90" y2="632.80" stroke="#1f1c1d" stroke-width="1.5"/>
<path d="M438.3,600.5 H398.6 V606.7 H438.3 V611.4 H394.5 V595.7 H438.3 Z" stroke="#1f1c1d" stroke-width="1.6" fill="#fff" />
<path d="M401,603.7 H437" stroke="#1f1c1d" stroke-width="1.6" fill="none" stroke-dasharray="6,4"/>
<path d="M463.3,590.7 H458 Q452.2,594 452.2,604 Q452.2,614 458,617.5 H463.3 Z" stroke="#1f1c1d" stroke-width="1.6" fill="#fff" />
<path d="M463.3,600.3 L456.8,603.8 L463.3,607.4" stroke="#1f1c1d" stroke-width="1.5" fill="none" />
<line x1="443.60" y1="603.60" x2="451.70" y2="603.60" stroke="#1f1c1d" stroke-width="1.5"/>
<rect x="463.3" y="601.8" width="40.5" height="3.4" fill="#555" stroke="#1f1c1d" stroke-width="1.2"/>
<rect x="515.30" y="599.90" width="18.40" height="5.10" rx="0" stroke="#1f1c1d" stroke-width="1.45" fill="none"/>
<rect x="486.40" y="581.60" width="5.40" height="42.80" rx="0" stroke="#1f1c1d" stroke-width="1.5" fill="none"/>
<line x1="491.80" y1="590.00" x2="524.40" y2="590.00" stroke="#1f1c1d" stroke-width="1.5"/>
<path d="M524.4,590 L529,586 H541.5" stroke="#1f1c1d" stroke-width="1.5" fill="none" />
<line x1="491.80" y1="618.20" x2="541.50" y2="618.20" stroke="#1f1c1d" stroke-width="1.5"/>
<ellipse cx="498.30" cy="602.8" rx="2.6" ry="24.8" transform="rotate(5.5 498.30 602.8)" fill="none" stroke="#1f1c1d" stroke-width="1.5"/>
<ellipse cx="508.20" cy="602.8" rx="2.6" ry="24.8" transform="rotate(5.5 508.20 602.8)" fill="none" stroke="#1f1c1d" stroke-width="1.5"/>
<ellipse cx="518.20" cy="602.8" rx="2.6" ry="24.8" transform="rotate(5.5 518.20 602.8)" fill="none" stroke="#1f1c1d" stroke-width="1.5"/>
<ellipse cx="527.60" cy="602.8" rx="2.6" ry="24.8" transform="rotate(5.5 527.60 602.8)" fill="none" stroke="#1f1c1d" stroke-width="1.5"/>
<ellipse cx="536.70" cy="602.8" rx="2.6" ry="24.8" transform="rotate(5.5 536.70 602.8)" fill="none" stroke="#1f1c1d" stroke-width="1.5"/>
<rect x="541.50" y="579.60" width="5.60" height="41.70" rx="0" stroke="#1f1c1d" stroke-width="1.5" fill="#fff"/>
<path d="M547.1,592.5 H563 V613.3 H547.1" stroke="#1f1c1d" stroke-width="1.5" fill="none" />
<path d="M563,596.2 H569.7 M563,609.6 H569.7" stroke="#1f1c1d" stroke-width="1.5" fill="none" />
<path d="M569.7,591.8 H587.4 V594 H592.1 V591.8 H604 V611.7 H592.1 V609.6 H587.4 V611.7 H569.7 Z" stroke="#1f1c1d" stroke-width="1.5" fill="none" />
<path d="M541,603.6 H632" stroke="#1f1c1d" stroke-width="1.3" fill="none" stroke-dasharray="6,4"/>
<text x="344.43" y="550.00" font-family="Liberation Sans" font-size="20.06" font-weight="normal" fill="#1f1c1d" textLength="8.94" lengthAdjust="spacingAndGlyphs" >4</text>
<text x="395.63" y="550.50" font-family="Liberation Sans" font-size="18.48" font-weight="normal" fill="#1f1c1d" textLength="8.33" lengthAdjust="spacingAndGlyphs" >3</text>
<text x="441.97" y="550.00" font-family="Liberation Sans" font-size="19.05" font-weight="normal" fill="#1f1c1d" textLength="9.27" lengthAdjust="spacingAndGlyphs" >2</text>
<text x="488.98" y="550.00" font-family="Liberation Sans" font-size="18.75" font-weight="normal" fill="#1f1c1d" textLength="6.71" lengthAdjust="spacingAndGlyphs" >1</text>
<path d="M362.2,543.5 H380.5 L416.7,589" stroke="#1f1c1d" stroke-width="1.5" fill="none" />
<path d="M416.70,589.00 L408.52,581.45 L411.18,579.33 Z" fill="#1f1c1d"/>
<path d="M413.9,543.5 H432.5 L475.4,600.3" stroke="#1f1c1d" stroke-width="1.5" fill="none" />
<path d="M475.40,600.30 L467.41,592.55 L470.13,590.50 Z" fill="#1f1c1d"/>
<path d="M458.8,543.0 H477.0 L508.4,575.8" stroke="#1f1c1d" stroke-width="1.5" fill="none" />
<path d="M508.40,575.80 L499.57,569.03 L502.02,566.68 Z" fill="#1f1c1d"/>
<path d="M503.9,543.6 H521.6 L558.7,599.6" stroke="#1f1c1d" stroke-width="1.5" fill="none" />
<path d="M558.70,599.60 L551.21,591.37 L554.04,589.49 Z" fill="#1f1c1d"/>
<line x1="583.80" y1="533.10" x2="583.80" y2="590.20" stroke="#1f1c1d" stroke-width="1.5"/>
<line x1="578.60" y1="551.00" x2="578.60" y2="591.40" stroke="#1f1c1d" stroke-width="1.5"/>
<line x1="603.30" y1="534.80" x2="603.30" y2="613.00" stroke="#1f1c1d" stroke-width="1.5"/>
<line x1="564.80" y1="537.40" x2="583.30" y2="537.40" stroke="#1f1c1d" stroke-width="1.5"/>
<path d="M583.30,537.40 L571.80,535.45 L571.80,539.35Z" fill="#1f1c1d"/>
<line x1="623.10" y1="537.40" x2="603.80" y2="537.40" stroke="#1f1c1d" stroke-width="1.5"/>
<path d="M603.80,537.40 L615.30,535.45 L615.30,539.35Z" fill="#1f1c1d"/>
<line x1="558.70" y1="557.00" x2="578.10" y2="557.00" stroke="#1f1c1d" stroke-width="1.5"/>
<path d="M578.10,557.00 L566.60,555.05 L566.60,558.95Z" fill="#1f1c1d"/>
<line x1="622.40" y1="557.00" x2="605.20" y2="557.00" stroke="#1f1c1d" stroke-width="1.5"/>
<path d="M605.20,557.00 L616.70,555.05 L616.70,558.95Z" fill="#1f1c1d"/>
<text x="627.92" y="541.60" font-family="Liberation Sans" font-size="17.91" font-weight="normal" fill="#1f1c1d" letter-spacing="-0.690">3.0 &#160;LOCK</text>
<text x="625.96" y="562.30" font-family="Liberation Sans" font-size="19.05" font-weight="normal" fill="#1f1c1d" letter-spacing="-1.218">4.0 &#160;TRAVEL</text>
<line x1="608.80" y1="591.40" x2="663.60" y2="591.40" stroke="#1f1c1d" stroke-width="1.45"/>
<line x1="605.00" y1="593.80" x2="642.10" y2="593.80" stroke="#1f1c1d" stroke-width="1.45"/>
<line x1="605.00" y1="610.00" x2="641.00" y2="610.00" stroke="#1f1c1d" stroke-width="1.45"/>
<line x1="605.70" y1="612.20" x2="662.40" y2="612.20" stroke="#1f1c1d" stroke-width="1.45"/>
<line x1="641.00" y1="572.40" x2="641.00" y2="590.60" stroke="#1f1c1d" stroke-width="1.5"/>
<path d="M641.00,590.60 L639.05,579.10 L642.95,579.10Z" fill="#1f1c1d"/>
<line x1="660.50" y1="571.20" x2="660.50" y2="590.60" stroke="#1f1c1d" stroke-width="1.5"/>
<path d="M660.50,590.60 L658.55,579.10 L662.45,579.10Z" fill="#1f1c1d"/>
<line x1="638.90" y1="631.00" x2="638.90" y2="613.00" stroke="#1f1c1d" stroke-width="1.5"/>
<path d="M638.90,613.00 L636.95,624.50 L640.85,624.50Z" fill="#1f1c1d"/>
<line x1="659.80" y1="631.80" x2="659.80" y2="613.00" stroke="#1f1c1d" stroke-width="1.5"/>
<path d="M659.80,613.00 L657.85,624.50 L661.75,624.50Z" fill="#1f1c1d"/>
<line x1="625.60" y1="643.00" x2="607.90" y2="643.00" stroke="#1f1c1d" stroke-width="1.5"/>
<path d="M607.90,643.00 L619.40,641.05 L619.40,644.95Z" fill="#1f1c1d"/>
<text x="0" y="0" transform="translate(644.80,659.27) rotate(-90)" font-family="Liberation Sans" font-size="19.63" fill="#1f1c1d" textLength="24.20" lengthAdjust="spacingAndGlyphs">2.5</text>
<text x="0" y="0" transform="translate(671.30,722.23) rotate(-90)" font-family="Liberation Sans" font-size="21.92" fill="#1f1c1d" textLength="62.61" lengthAdjust="spacingAndGlyphs">SQ 3.3</text>
<text x="0" y="0" transform="translate(656.90,655.65) rotate(-90)" font-family="Liberation Sans" font-size="11.32" fill="#1f1c1d" textLength="5.00" lengthAdjust="spacingAndGlyphs">0</text>
<text x="0" y="0" transform="translate(669.70,658.74) rotate(-90)" font-family="Liberation Sans" font-size="15.33" fill="#1f1c1d" textLength="22.87" lengthAdjust="spacingAndGlyphs">-0.05</text>
<line x1="187.10" y1="636.00" x2="187.10" y2="683.80" stroke="#1f1c1d" stroke-width="1.5"/>
<line x1="491.60" y1="627.20" x2="491.60" y2="669.40" stroke="#1f1c1d" stroke-width="1.5"/>
<line x1="546.90" y1="631.00" x2="546.90" y2="651.70" stroke="#1f1c1d" stroke-width="1.5"/>
<line x1="606.00" y1="615.00" x2="606.00" y2="684.40" stroke="#1f1c1d" stroke-width="1.5"/>
<line x1="527.60" y1="643.50" x2="546.40" y2="643.50" stroke="#1f1c1d" stroke-width="1.5"/>
<path d="M546.40,643.50 L534.90,641.55 L534.90,645.45Z" fill="#1f1c1d"/>
<text x="566.94" y="647.60" font-family="Liberation Sans" font-size="16.05" font-weight="normal" fill="#1f1c1d" textLength="10.23" lengthAdjust="spacingAndGlyphs" >9</text>
<line x1="524.90" y1="664.80" x2="492.10" y2="664.80" stroke="#1f1c1d" stroke-width="1.5"/>
<path d="M492.10,664.80 L503.60,662.85 L503.60,666.75Z" fill="#1f1c1d"/>
<line x1="578.00" y1="664.80" x2="605.50" y2="664.80" stroke="#1f1c1d" stroke-width="1.5"/>
<path d="M605.50,664.80 L594.00,662.85 L594.00,666.75Z" fill="#1f1c1d"/>
<text x="533.43" y="671.50" font-family="Liberation Sans" font-size="19.05" font-weight="normal" fill="#1f1c1d" textLength="35.15" lengthAdjust="spacingAndGlyphs" >17.8</text>
<line x1="372.00" y1="680.60" x2="187.60" y2="680.60" stroke="#1f1c1d" stroke-width="1.5"/>
<path d="M187.60,680.60 L199.10,678.65 L199.10,682.55Z" fill="#1f1c1d"/>
<line x1="421.00" y1="680.60" x2="605.50" y2="680.60" stroke="#1f1c1d" stroke-width="1.5"/>
<path d="M605.50,680.60 L594.00,678.65 L594.00,682.55Z" fill="#1f1c1d"/>
<text x="378.36" y="687.40" font-family="Liberation Sans" font-size="20.20" font-weight="normal" fill="#1f1c1d" textLength="35.76" lengthAdjust="spacingAndGlyphs" >66.0</text>
<defs>
<linearGradient id="gface" x1="0" y1="0" x2="0" y2="1"><stop offset="0" stop-color="#acacac"/><stop offset="1" stop-color="#8e8e8e"/></linearGradient>
<linearGradient id="gpin" x1="0" y1="0" x2="1" y2="0"><stop offset="0" stop-color="#a0a0a0"/><stop offset="0.45" stop-color="#ececec"/><stop offset="1" stop-color="#b8b8b8"/></linearGradient>
<linearGradient id="gcap" x1="0" y1="0" x2="0" y2="1"><stop offset="0" stop-color="#ededed"/><stop offset="1" stop-color="#cdcdcd"/></linearGradient>
<filter id="blur1" x="-5%" y="-5%" width="110%" height="110%"><feGaussianBlur stdDeviation="0.5"/></filter>
</defs>
<g filter="url(#blur1)">
<rect x="416.7" y="124.0" width="9.6" height="22" rx="1" fill="#cfcfcf" stroke="#7c7c7c" stroke-width="1.3"/>
<rect x="418.7" y="126.0" width="5.6" height="12" fill="#fbfbfb" stroke="#a0a0a0" stroke-width="0.6"/>
<rect x="435.7" y="125.9" width="9.6" height="22" rx="1" fill="#cfcfcf" stroke="#7c7c7c" stroke-width="1.3"/>
<rect x="437.7" y="127.9" width="5.6" height="12" fill="#fbfbfb" stroke="#a0a0a0" stroke-width="0.6"/>
<rect x="454.7" y="127.8" width="9.6" height="22" rx="1" fill="#cfcfcf" stroke="#7c7c7c" stroke-width="1.3"/>
<rect x="456.7" y="129.8" width="5.6" height="12" fill="#fbfbfb" stroke="#a0a0a0" stroke-width="0.6"/>
<rect x="473.7" y="129.6" width="9.6" height="22" rx="1" fill="#cfcfcf" stroke="#7c7c7c" stroke-width="1.3"/>
<rect x="475.7" y="131.6" width="5.6" height="12" fill="#fbfbfb" stroke="#a0a0a0" stroke-width="0.6"/>
<rect x="492.7" y="131.5" width="9.6" height="22" rx="1" fill="#cfcfcf" stroke="#7c7c7c" stroke-width="1.3"/>
<rect x="494.7" y="133.5" width="5.6" height="12" fill="#fbfbfb" stroke="#a0a0a0" stroke-width="0.6"/>
<rect x="511.7" y="133.4" width="9.6" height="22" rx="1" fill="#cfcfcf" stroke="#7c7c7c" stroke-width="1.3"/>
<rect x="513.7" y="135.4" width="5.6" height="12" fill="#fbfbfb" stroke="#a0a0a0" stroke-width="0.6"/>
<rect x="530.7" y="135.3" width="9.6" height="22" rx="1" fill="#cfcfcf" stroke="#7c7c7c" stroke-width="1.3"/>
<rect x="532.7" y="137.3" width="5.6" height="12" fill="#fbfbfb" stroke="#a0a0a0" stroke-width="0.6"/>
<rect x="549.7" y="137.2" width="9.6" height="22" rx="1" fill="#cfcfcf" stroke="#7c7c7c" stroke-width="1.3"/>
<rect x="551.7" y="139.2" width="5.6" height="12" fill="#fbfbfb" stroke="#a0a0a0" stroke-width="0.6"/>
<rect x="568.7" y="139.0" width="9.6" height="22" rx="1" fill="#cfcfcf" stroke="#7c7c7c" stroke-width="1.3"/>
<rect x="570.7" y="141.0" width="5.6" height="12" fill="#fbfbfb" stroke="#a0a0a0" stroke-width="0.6"/>
<path d="M411.6,175 h3.6 v22.5 l-1.8,2 l-1.8,-2 z" fill="#d9d9d9" stroke="#b0b0b0" stroke-width="0.7"/>
<path d="M415.2,175 h6.0 v28.0 l-3.0,3 l-3.0,-3 z" fill="url(#gpin)" stroke="#9a9a9a" stroke-width="0.8"/>
<path d="M428.9,175 h3.6 v24.4 l-1.8,2 l-1.8,-2 z" fill="#d9d9d9" stroke="#b0b0b0" stroke-width="0.7"/>
<path d="M432.5,175 h6.0 v29.9 l-3.0,3 l-3.0,-3 z" fill="url(#gpin)" stroke="#9a9a9a" stroke-width="0.8"/>
<path d="M446.2,175 h3.6 v26.3 l-1.8,2 l-1.8,-2 z" fill="#d9d9d9" stroke="#b0b0b0" stroke-width="0.7"/>
<path d="M449.8,175 h6.0 v31.8 l-3.0,3 l-3.0,-3 z" fill="url(#gpin)" stroke="#9a9a9a" stroke-width="0.8"/>
<path d="M463.5,175 h3.6 v28.2 l-1.8,2 l-1.8,-2 z" fill="#d9d9d9" stroke="#b0b0b0" stroke-width="0.7"/>
<path d="M467.1,175 h6.0 v33.7 l-3.0,3 l-3.0,-3 z" fill="url(#gpin)" stroke="#9a9a9a" stroke-width="0.8"/>
<path d="M480.8,175 h3.6 v30.1 l-1.8,2 l-1.8,-2 z" fill="#d9d9d9" stroke="#b0b0b0" stroke-width="0.7"/>
<path d="M484.4,175 h6.0 v35.6 l-3.0,3 l-3.0,-3 z" fill="url(#gpin)" stroke="#9a9a9a" stroke-width="0.8"/>
<path d="M498.1,175 h3.6 v32.0 l-1.8,2 l-1.8,-2 z" fill="#d9d9d9" stroke="#b0b0b0" stroke-width="0.7"/>
<path d="M501.7,175 h6.0 v37.5 l-3.0,3 l-3.0,-3 z" fill="url(#gpin)" stroke="#9a9a9a" stroke-width="0.8"/>
<path d="M515.4,175 h3.6 v33.9 l-1.8,2 l-1.8,-2 z" fill="#d9d9d9" stroke="#b0b0b0" stroke-width="0.7"/>
<path d="M519.0,175 h6.0 v39.4 l-3.0,3 l-3.0,-3 z" fill="url(#gpin)" stroke="#9a9a9a" stroke-width="0.8"/>
<path d="M532.7,175 h3.6 v35.8 l-1.8,2 l-1.8,-2 z" fill="#d9d9d9" stroke="#b0b0b0" stroke-width="0.7"/>
<path d="M536.3,175 h6.0 v41.3 l-3.0,3 l-3.0,-3 z" fill="url(#gpin)" stroke="#9a9a9a" stroke-width="0.8"/>
<path d="M550.0,175 h3.6 v37.7 l-1.8,2 l-1.8,-2 z" fill="#d9d9d9" stroke="#b0b0b0" stroke-width="0.7"/>
<path d="M553.6,175 h6.0 v43.2 l-3.0,3 l-3.0,-3 z" fill="url(#gpin)" stroke="#9a9a9a" stroke-width="0.8"/>
<path d="M567.3,175 h3.6 v39.6 l-1.8,2 l-1.8,-2 z" fill="#d9d9d9" stroke="#b0b0b0" stroke-width="0.7"/>
<path d="M570.9,175 h6.0 v45.1 l-3.0,3 l-3.0,-3 z" fill="url(#gpin)" stroke="#9a9a9a" stroke-width="0.8"/>
<path d="M386,149.5 L389,146.4 L540,159.5 L580,161.2 L606,160.8 L606,178.5 L385.6,152.8 Z" fill="url(#gface)"/>
<rect x="404.0" y="127.7" width="10.4" height="20" rx="1" fill="#d2d2d2" stroke="#7c7c7c" stroke-width="1.3"/>
<rect x="406.3" y="129.9" width="5.8" height="11.8" fill="#fcfcfc" stroke="#a0a0a0" stroke-width="0.6"/>
<rect x="403.0" y="144.2" width="12.4" height="3.5" fill="#b0b0b0"/>
<rect x="423.3" y="129.6" width="10.4" height="20" rx="1" fill="#d2d2d2" stroke="#7c7c7c" stroke-width="1.3"/>
<rect x="425.6" y="131.8" width="5.8" height="11.8" fill="#fcfcfc" stroke="#a0a0a0" stroke-width="0.6"/>
<rect x="422.3" y="146.1" width="12.4" height="3.5" fill="#b0b0b0"/>
<rect x="442.6" y="131.6" width="10.4" height="20" rx="1" fill="#d2d2d2" stroke="#7c7c7c" stroke-width="1.3"/>
<rect x="444.9" y="133.8" width="5.8" height="11.8" fill="#fcfcfc" stroke="#a0a0a0" stroke-width="0.6"/>
<rect x="441.6" y="148.1" width="12.4" height="3.5" fill="#b0b0b0"/>
<rect x="461.9" y="133.5" width="10.4" height="20" rx="1" fill="#d2d2d2" stroke="#7c7c7c" stroke-width="1.3"/>
<rect x="464.2" y="135.7" width="5.8" height="11.8" fill="#fcfcfc" stroke="#a0a0a0" stroke-width="0.6"/>
<rect x="460.9" y="150.0" width="12.4" height="3.5" fill="#b0b0b0"/>
<rect x="481.2" y="135.4" width="10.4" height="20" rx="1" fill="#d2d2d2" stroke="#7c7c7c" stroke-width="1.3"/>
<rect x="483.5" y="137.6" width="5.8" height="11.8" fill="#fcfcfc" stroke="#a0a0a0" stroke-width="0.6"/>
<rect x="480.2" y="151.9" width="12.4" height="3.5" fill="#b0b0b0"/>
<rect x="500.5" y="137.3" width="10.4" height="20" rx="1" fill="#d2d2d2" stroke="#7c7c7c" stroke-width="1.3"/>
<rect x="502.8" y="139.5" width="5.8" height="11.8" fill="#fcfcfc" stroke="#a0a0a0" stroke-width="0.6"/>
<rect x="499.5" y="153.8" width="12.4" height="3.5" fill="#b0b0b0"/>
<rect x="519.8" y="139.3" width="10.4" height="20" rx="1" fill="#d2d2d2" stroke="#7c7c7c" stroke-width="1.3"/>
<rect x="522.1" y="141.5" width="5.8" height="11.8" fill="#fcfcfc" stroke="#a0a0a0" stroke-width="0.6"/>
<rect x="518.8" y="155.8" width="12.4" height="3.5" fill="#b0b0b0"/>
<rect x="539.1" y="141.2" width="10.4" height="20" rx="1" fill="#d2d2d2" stroke="#7c7c7c" stroke-width="1.3"/>
<rect x="541.4" y="143.4" width="5.8" height="11.8" fill="#fcfcfc" stroke="#a0a0a0" stroke-width="0.6"/>
<rect x="538.1" y="157.7" width="12.4" height="3.5" fill="#b0b0b0"/>
<rect x="558.4" y="143.1" width="10.4" height="20" rx="1" fill="#d2d2d2" stroke="#7c7c7c" stroke-width="1.3"/>
<rect x="560.7" y="145.3" width="5.8" height="11.8" fill="#fcfcfc" stroke="#a0a0a0" stroke-width="0.6"/>
<rect x="557.4" y="159.6" width="12.4" height="3.5" fill="#b0b0b0"/>
<path d="M396.3,138.5 L402.9,137.2 L402.9,146 L396.3,146.5 Z" fill="#1a1a1a"/>
<path d="M385.6,152.8 L500,166.6 L540,171.5 L604,178 L607,200 L600,206.5 L540,201.2 L500,194.5 L385.6,178.6 Z" fill="#121212"/>
<path d="M393.3,178 L406.6,179.5 L406.6,186.7 L393.3,186.7 Z" fill="#121212"/>
<path d="M565,200 L576.7,201 L576.7,208.6 L565,208.6 Z" fill="#121212"/>
<path d="M580,168 l5,-1.5 l1,2 l-5,1.5 z" fill="#222"/>
<path d="M598,177.5 L606,160.8 L612,160.5 L612,201 L604,204 Z" fill="#2a2a2a"/>
<ellipse cx="614" cy="180.8" rx="8.2" ry="20" fill="#b9b9b9" stroke="#1e1e1e" stroke-width="2"/>
<path d="M608.5,177 Q615,175.5 621.8,177 L621.8,197 Q615,199.5 608.5,197.5 Z" fill="#d9d9d9"/>
<ellipse cx="628" cy="186" rx="5.2" ry="19" fill="none" stroke="#6e6e6e" stroke-width="1.2"/>
<path d="M634.5,171 L651,168.7 L651.4,203.5 L635,206 Z" fill="#e2e2e2" stroke="#3a3a3a" stroke-width="1.5"/>
<path d="M635.5,172 L650.2,169.8 L650.3,176 L635.7,178 Z" fill="#b5b5b5"/>
<path d="M641,180 L660.4,180.5 L660.4,199.4 L641,198.8 Z" fill="url(#gcap)" stroke="#c4c4c4" stroke-width="0.8"/>
<path d="M658.9,181 L679.8,181 L679.8,202.4 L658.9,201.8 Z" fill="url(#gcap)" stroke="#c4c4c4" stroke-width="0.8"/>
<path d="M674.6,183 L693.3,183.5 L693.3,204.6 L674.6,204 Z" fill="url(#gcap)" stroke="#c4c4c4" stroke-width="0.8"/>
</g>
<line x1="252.90" y1="352.90" x2="252.90" y2="370.60" stroke="#1f1c1d" stroke-width="1.5"/>
<line x1="266.00" y1="352.90" x2="266.00" y2="370.60" stroke="#1f1c1d" stroke-width="1.5"/>
<line x1="229.40" y1="357.00" x2="252.40" y2="357.00" stroke="#1f1c1d" stroke-width="1.5"/>
<path d="M252.40,357.00 L240.90,355.05 L240.90,358.95Z" fill="#1f1c1d"/>
<line x1="297.30" y1="357.00" x2="266.50" y2="357.00" stroke="#1f1c1d" stroke-width="1.5"/>
<path d="M266.50,357.00 L278.00,355.05 L278.00,358.95Z" fill="#1f1c1d"/>
<text x="301.65" y="363.20" font-family="Liberation Sans" font-size="18.62" font-weight="normal" fill="#1f1c1d" textLength="26.28" lengthAdjust="spacingAndGlyphs" >2.6</text>
</svg>
</body></html>
